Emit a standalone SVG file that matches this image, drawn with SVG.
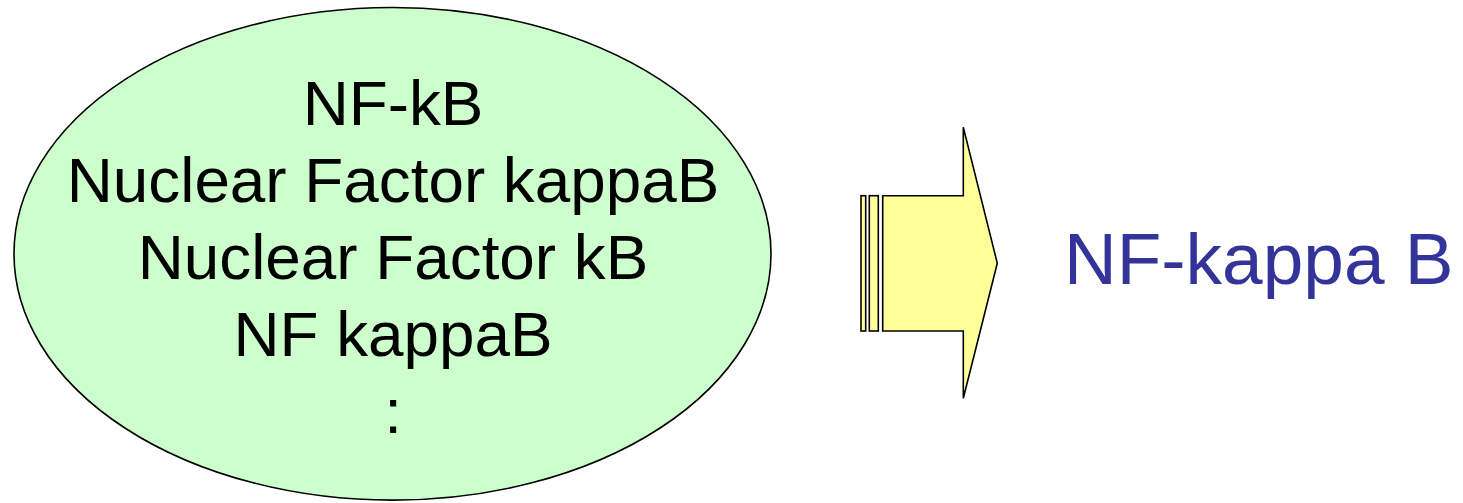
<svg xmlns="http://www.w3.org/2000/svg" width="1463" height="503" viewBox="0 0 1463 503">
  <style>
    .outline { stroke: #000000; stroke-width: 1.6; stroke-linejoin: miter; }
    .label { font-family: "Liberation Sans", Arial, sans-serif; text-anchor: middle; }
    .names { font-size: 63.8px; fill: #000000; }
    .result { font-size: 73px; fill: #333399; text-anchor: start; }
  </style>
  <rect width="1463" height="503" fill="#ffffff"/>

  <!-- Synonym cloud -->
  <g id="synonyms">
    <ellipse class="outline" cx="392.5" cy="253.8" rx="378.5" ry="246.3" fill="#ccffcc"/>
    <text class="label names" x="393" y="125">NF-kB</text>
    <text class="label names" x="393" y="202">Nuclear Factor kappaB</text>
    <text class="label names" x="393" y="279">Nuclear Factor kB</text>
    <text class="label names" x="393" y="356">NF kappaB</text>
    <text class="label names" x="393" y="433">:</text>
  </g>

  <!-- Striped block arrow -->
  <g id="connectors">
    <g id="arrow" fill="#ffff99">
      <rect class="outline" x="861" y="195.7" width="4.7" height="135.3"/>
      <rect class="outline" x="869.3" y="195.7" width="9" height="135.3"/>
      <path class="outline" d="M882.7 195.7 H963.3 V127.3 L997.3 263.3 L963.3 398.3 V331 H882.7 Z"/>
    </g>
  </g>

  <!-- Normalised name -->
  <g id="normalised">
    <text class="label result" x="1064" y="284">NF-kappa B</text>
  </g>
</svg>
